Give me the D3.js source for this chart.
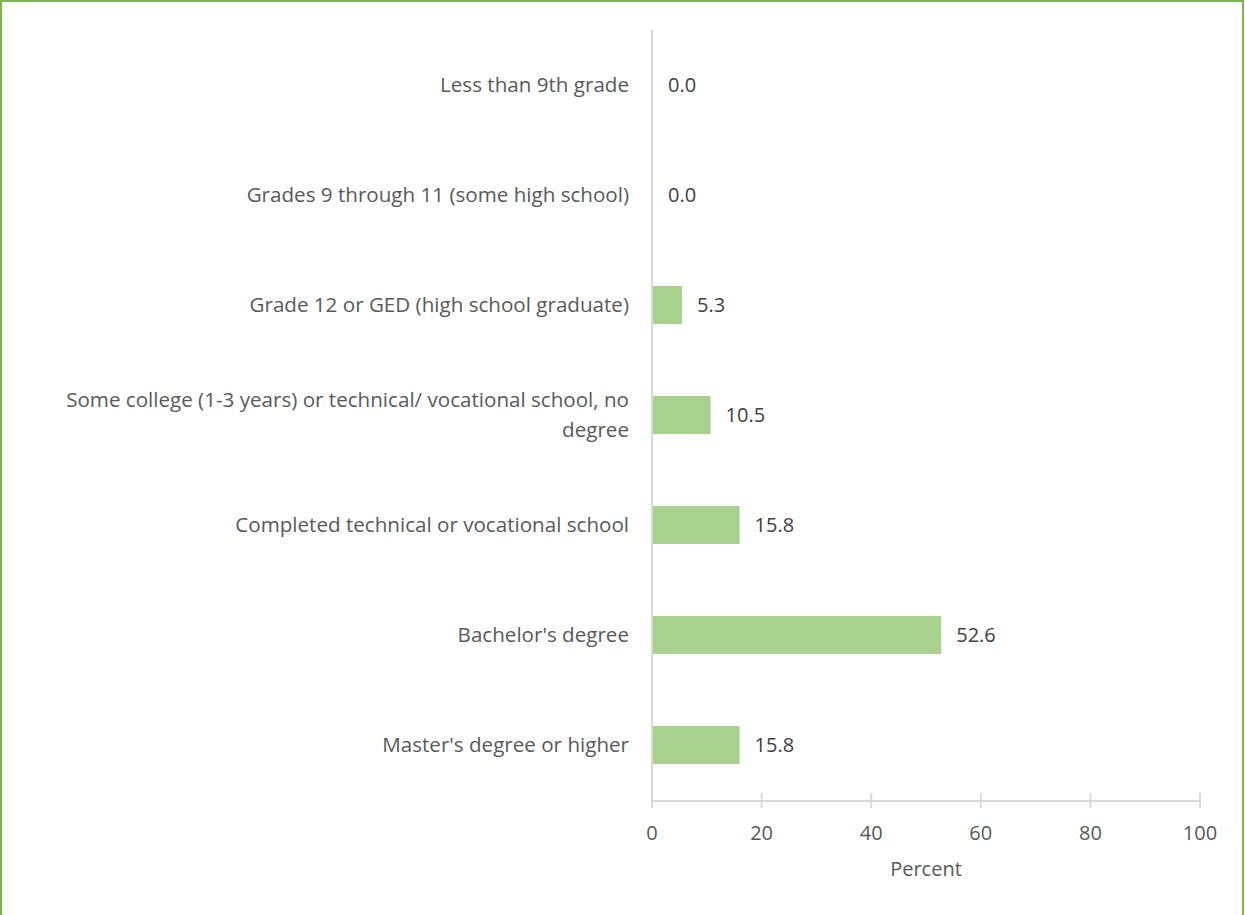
<!DOCTYPE html>
<html>
<head>
<meta charset="utf-8">
<script src="https://cdn.jsdelivr.net/npm/d3@7"></script>
<style>
  body { margin: 0; background: #fff; }
  svg { display: block; }
  text { font-family: "Open Sans", sans-serif; fill: #595959; }
</style>
</head>
<body>
<div id="chart"></div>
<script>
// data
var categories = [
  "Less than 9th grade",
  "Grades 9 through 11 (some high school)",
  "Grade 12 or GED (high school graduate)",
  "Some college (1-3 years) or technical/ vocational school, no degree",
  "Completed technical or vocational school",
  "Bachelor's degree",
  "Master's degree or higher"
];
var values = [0.0, 0.0, 5.3, 10.5, 15.8, 52.6, 15.8];
var xTicks = [0, 20, 40, 60, 80, 100];
var axisTitle = "Percent";

var W = 1245, H = 915;
var plotLeft = 652, plotRight = 1200, plotTop = 30, plotBottom = 800;
var fontSize = 20, catFontSize = 20.6;

var svg = d3.select("#chart").append("svg").attr("width", W).attr("height", H);

// green frame
svg.append("rect").attr("x", 1).attr("y", 1).attr("width", W - 3).attr("height", H + 10)
  .attr("fill", "none").attr("stroke", "#7AB648").attr("stroke-width", 2);

var x = d3.scaleLinear().domain([0, 100]).range([plotLeft, plotRight]);
var y = d3.scaleBand().domain(categories).range([plotTop, plotBottom])
  .paddingInner(0.655).paddingOuter(0.3275);

// x axis
var xAxis = svg.append("g").attr("transform", "translate(0," + (plotBottom + 1) + ")");
xAxis.append("line").attr("x1", plotLeft).attr("x2", plotRight).attr("stroke", "#D9D9D9").attr("stroke-width", 2);
xAxis.selectAll(".tick").data(xTicks).enter().append("line")
  .attr("x1", function (d) { return x(d); }).attr("x2", function (d) { return x(d); })
  .attr("y1", -8).attr("y2", 7).attr("stroke", "#D9D9D9").attr("stroke-width", 2);
xAxis.selectAll(".lbl").data(xTicks).enter().append("text")
  .attr("x", function (d) { return x(d); }).attr("y", 39)
  .attr("text-anchor", "middle").attr("font-size", fontSize)
  .text(function (d) { return d; });

svg.append("text").attr("x", (plotLeft + plotRight) / 2).attr("y", 876)
  .attr("text-anchor", "middle").attr("font-size", fontSize).text(axisTitle);

// vertical axis
svg.append("line").attr("x1", plotLeft).attr("x2", plotLeft).attr("y1", plotTop).attr("y2", plotBottom + 8)
  .attr("stroke", "#D9D9D9").attr("stroke-width", 2);

// bars
svg.selectAll(".bar").data(values).enter().append("rect")
  .attr("class", "bar")
  .attr("x", x(0) + 1)
  .attr("y", function (d, i) { return y(categories[i]); })
  .attr("width", function (d) { return Math.max(0, x(d) - x(0)); })
  .attr("height", y.bandwidth())
  .attr("fill", "#A9D18E");

// value labels
svg.selectAll(".val").data(values).enter().append("text")
  .attr("x", function (d) { return x(d) + 16; })
  .attr("y", function (d, i) { return y(categories[i]) + y.bandwidth() / 2; })
  .attr("dy", "0.35em").attr("font-size", fontSize)
  .style("fill", "#404040")
  .text(function (d) { return d.toFixed(1); });

// category labels with wrapping
var maxW = 590;
svg.selectAll(".cat").data(categories).enter().append("text")
  .attr("class", "cat")
  .attr("text-anchor", "end").attr("font-size", catFontSize)
  .each(function (d) {
    var t = d3.select(this);
    var words = d.split(" "), lines = [], line = [];
    words.forEach(function (w) {
      line.push(w);
      t.text(line.join(" "));
      if (this.getComputedTextLength() > maxW && line.length > 1) {
        line.pop();
        lines.push(line.join(" "));
        line = [w];
      }
    }, this);
    lines.push(line.join(" "));
    t.text(null);
    var cy = y(d) + y.bandwidth() / 2;
    var lh = 30;
    lines.forEach(function (l, k) {
      t.append("tspan").attr("x", 629)
        .attr("y", cy + (k - (lines.length - 1) / 2) * lh)
        .attr("dy", "0.35em").text(l);
    });
  });
</script>
</body>
</html>
